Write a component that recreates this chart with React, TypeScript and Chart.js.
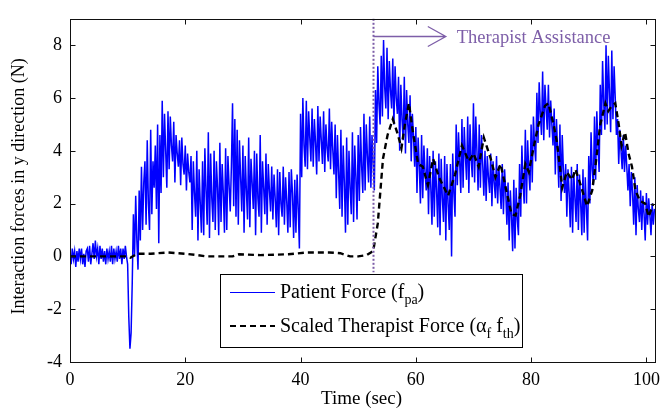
import React, { useEffect, useRef } from "react";
import { Chart, registerables } from "chart.js";

Chart.register(...registerables);

// Patient force (blue), sampled every SAMPLE_STEP seconds starting at t = 0
const SAMPLE_STEP = 0.2;
const patientForce = [
  0.1, -0.3, 0.3, -0.1, 0.2,
  -0.4, 0.2, -0.2, 0.3, -0.1,
  0.3, -0.3, 0.1, -0.4, 0.2,
  0.3, -0.2, 0.4, -0.3, 0.1,
  0.5, -0.1, 0.6, 0.0, 0.3,
  -0.3, 0.4, -0.1, 0.3, -0.2,
  0.2, -0.3, 0.3, -0.1, 0.2,
  -0.2, 0.4, -0.3, 0.3, -0.1,
  0.2, -0.2, 0.4, -0.1, 0.3,
  -0.3, 0.3, -0.1, 0.4, 0.0,
  -0.3, -2.3, -3.5, -2.9, -1.0,
  1.6, 0.0, 2.3, 0.6, -0.5,
  2.5, 0.6, 3.4, 1.0, 2.8,
  3.6, 1.2, 4.4, 2.0, 1.0,
  4.8, 1.6, 3.6, 2.6, 4.2,
  1.8, 5.0, 0.5, 4.6, 2.4,
  5.9, 3.0, 5.4, 4.0, 2.6,
  5.5, 3.3, 5.3, 4.2, 3.6,
  5.1, 2.8, 4.6, 3.9, 3.4,
  4.4, 2.7, 4.5, 3.5, 3.1,
  4.2, 2.5, 3.9, 3.2, 2.8,
  3.8, 1.0, 3.6, 2.4, 1.5,
  4.0, 0.6, 3.3, 2.0, 0.9,
  3.6, 0.8, 4.1, 2.5, 1.2,
  4.7, 0.7, 3.9, 2.2, 1.3,
  4.0, 1.0, 3.6, 2.6, 0.8,
  4.3, 1.3, 3.5, 2.4, 0.9,
  4.1, 1.0, 3.8, 2.7, 1.7,
  3.4, 5.8, 1.9, 5.2, 1.5,
  4.8, 1.2, 4.4, 3.0, 1.7,
  4.2, 0.9, 3.8, 2.5, 1.4,
  4.5, 1.1, 3.7, 2.8, 1.8,
  4.0, 0.8, 3.9, 2.2, 1.5,
  4.6, 0.9, 3.6, 2.6, 1.6,
  3.9, 1.2, 3.5, 2.5, 1.7,
  3.4, 1.4, 3.1, 2.2, 1.1,
  3.3, 0.8, 3.2, 2.0, 1.5,
  3.4, 1.2, 3.0, 2.1, 0.9,
  3.2, 1.1, 3.3, 2.4, 0.7,
  2.9, 0.9, 3.1, 1.8, 0.3,
  5.4, 3.0, 6.0, 4.2, 3.4,
  5.9, 3.3, 5.5, 4.5, 3.6,
  5.6, 3.4, 5.2, 4.3, 3.1,
  5.7, 3.6, 5.3, 4.4, 3.5,
  5.5, 3.2, 5.0, 4.1, 3.6,
  5.6, 3.3, 5.1, 4.0, 3.1,
  5.0, 2.2, 4.6, 3.2, 1.8,
  4.8, 1.5, 4.2, 2.8, 0.9,
  4.5, 1.2, 4.0, 2.6, 1.6,
  4.7, 1.3, 4.2, 3.0, 1.4,
  4.6, 2.1, 4.9, 3.4, 2.4,
  5.4, 2.5, 5.0, 3.8, 2.8,
  5.3, 2.6, 4.6, 3.5, 2.5,
  6.3, 4.3, 7.2, 5.8, 5.0,
  7.6, 5.3, 8.2, 6.4, 5.6,
  7.9, 5.2, 7.4, 6.3, 5.6,
  7.5, 5.0, 7.2, 6.0, 5.4,
  6.8, 4.0, 6.5, 5.2, 4.4,
  6.8, 3.9, 6.3, 5.0, 4.3,
  6.1, 3.6, 5.4, 4.5, 3.4,
  4.9, 2.4, 4.5, 3.4, 2.0,
  4.6, 2.2, 4.2, 3.2, 2.5,
  4.1, 1.6, 3.8, 2.6, 1.2,
  4.0, 1.5, 3.6, 2.5, 1.1,
  3.9, 0.8, 3.7, 2.2, 1.3,
  3.8, 0.6, 3.5, 2.0, 1.0,
  3.5, 0.0, 3.9, 2.4, 1.5,
  5.0, 2.7, 4.7, 3.6, 2.4,
  5.2, 2.6, 4.9, 3.8, 2.9,
  5.3, 2.4, 5.0, 3.7, 3.0,
  5.8, 2.8, 5.3, 4.0, 2.5,
  5.0, 2.6, 4.6, 3.5, 2.3,
  4.0, 2.1, 3.8, 3.0, 2.4,
  3.9, 1.9, 3.6, 2.8, 2.2,
  3.8, 2.0, 3.4, 2.6, 1.8,
  3.5, 1.6, 3.3, 2.4, 1.2,
  2.8, 0.6, 2.5, 1.5, 0.2,
  2.9, 0.3, 2.6, 1.4, 0.8,
  3.5, 1.5, 4.2, 2.8, 2.0,
  4.8, 2.0, 4.4, 3.2, 2.5,
  5.0, 2.8, 5.3, 4.2, 3.6,
  6.2, 4.3, 6.6, 5.4, 4.6,
  7.0, 4.4, 6.5, 5.6, 4.8,
  6.5, 4.5, 5.9, 5.0, 4.2,
  5.6, 3.1, 5.2, 4.0, 2.6,
  5.0, 2.1, 4.6, 3.3, 2.4,
  3.5, 1.5, 3.3, 2.4, 1.1,
  3.4, 0.9, 3.2, 2.2, 1.3,
  3.5, 1.0, 3.1, 2.0, 0.8,
  3.3, 0.9, 3.0, 1.8, 0.6,
  3.8, 2.0, 4.7, 3.3, 2.7,
  5.3, 2.9, 5.5, 4.2, 3.2,
  6.5, 4.6, 7.4, 5.8, 4.8,
  8.0, 5.0, 7.6, 6.2, 4.7,
  7.8, 5.2, 7.2, 6.0, 4.6,
  5.2, 3.5, 4.8, 4.0, 3.3,
  4.6, 3.2, 4.2, 3.4, 2.5,
  3.5, 1.9, 3.2, 2.4, 1.2,
  3.0, 0.8, 2.7, 1.8, 1.3,
  2.5, 1.0, 2.3, 1.6, 0.6,
  2.4, 1.2, 2.2, 1.6, 0.8,
  2.0, 1.2, 1.8,
];

// Scaled therapist force (black dashed)
const therapistTime = [
  0, 2, 4, 6, 8, 10, 10.5, 11.6, 14, 17, 20, 22, 23.6, 26, 28.2, 29.3, 33, 37.9,
  41.2, 45, 46.9, 48.6, 50, 51.5, 52.2, 52.6, 53.4, 54.3, 55.1, 56, 56.9, 57.5,
  58.1, 58.8, 59.5, 60.4, 61.2, 62.1, 63, 64, 65.6, 66.8, 68, 69.2, 70, 70.9,
  71.8, 73, 73.8, 74.7, 75.2, 75.9, 76.6, 77.3, 78.1, 79, 79.6, 80.4, 81.3, 82.4,
  83, 83.9, 84.5, 85.1, 85.4, 86.2, 87.1, 87.7, 88.6, 89.7, 90.6, 91.2, 92, 92.9,
  93.4, 94, 94.6, 95.2, 95.7, 96.3, 96.9, 97.5, 98.1, 98.9, 99.8, 100.4, 101.2,
];
const therapistForce = [
  0, 0, 0, 0, 0, 0, -0.05, 0.1, 0.1, 0.15, 0.1, 0.05, 0.0, 0.0, 0.0, 0.08, 0.05, 0.08,
  0.15, 0.15, 0.12, 0.0, 0.0, 0.05, 0.15, 0.2, 1.25, 3.7, 4.6, 5.2, 4.6, 4.1,
  5.0, 5.8, 4.7, 3.5, 3.4, 2.7, 3.7, 3.0, 2.3, 3.1, 4.2, 3.6, 3.9, 3.4,
  4.5, 3.7, 3.0, 3.5, 3.0, 2.3, 1.6, 1.55, 2.3, 3.5, 3.2, 4.1, 5.0, 5.7,
  5.8, 5.0, 4.3, 3.2, 2.6, 3.2, 2.9, 3.3, 2.7, 1.9, 2.5, 3.5, 5.0, 5.8,
  5.5, 5.7, 5.8, 5.0, 4.2, 4.7, 3.9, 3.4, 2.5, 2.1, 2.0, 1.5, 2.0,
];

const xTickValues = [0, 20, 40, 60, 80, 100];
const yTickValues = [-4, -2, 0, 2, 4, 6, 8];

const assistanceStart = 52.6;
const assistanceLineBottom = -0.6;
const arrowLevel = 8.33;
const arrowEnd = 65.2;
const annotationText = "Therapist Assistance";

const FONT = '"Liberation Serif", "Times New Roman", serif';
const PURPLE = "#7d5ea8";

function drawRuns(ctx, x, y, runs) {
  let cx = x;
  for (const r of runs) {
    ctx.font = r.sub ? `14px ${FONT}` : `20px ${FONT}`;
    ctx.fillText(r.text, cx, r.sub ? y + 6 : y);
    cx += ctx.measureText(r.text).width;
  }
}

const framePlugin = {
  id: "frame",
  afterDatasetsDraw(chart) {
    const { ctx, chartArea: a, scales } = chart;
    const xs = scales.x;
    const ys = scales.y;
    ctx.save();
    // Therapist assistance marker
    const vx = Math.round(xs.getPixelForValue(assistanceStart)) + 0.5;
    ctx.strokeStyle = PURPLE;
    ctx.lineWidth = 2;
    ctx.setLineDash([2, 2]);
    ctx.beginPath();
    ctx.moveTo(vx, a.top);
    ctx.lineTo(vx, ys.getPixelForValue(assistanceLineBottom));
    ctx.stroke();
    ctx.setLineDash([]);
    ctx.lineWidth = 1.3;
    const ay = Math.round(ys.getPixelForValue(arrowLevel)) + 0.5;
    const ax = xs.getPixelForValue(arrowEnd);
    ctx.beginPath();
    ctx.moveTo(vx, ay);
    ctx.lineTo(ax, ay);
    ctx.moveTo(ax - 18, ay - 10);
    ctx.lineTo(ax, ay);
    ctx.lineTo(ax - 18, ay + 10);
    ctx.stroke();
    ctx.fillStyle = PURPLE;
    ctx.font = `18.5px ${FONT}`;
    ctx.textBaseline = "alphabetic";
    ctx.textAlign = "left";
    ctx.fillText(annotationText, ax + 11, ay + 6);

    // Frame
    ctx.strokeStyle = "#111";
    ctx.lineWidth = 1;
    const L = Math.round(a.left) + 0.5;
    const R = Math.round(a.right) + 0.5;
    const T = Math.round(a.top) + 0.5;
    const B = Math.round(a.bottom) + 0.5;
    ctx.strokeRect(L, T, R - L, B - T);
    const tl = 5;
    ctx.beginPath();
    for (const v of xTickValues) {
      const p = Math.round(xs.getPixelForValue(v)) + 0.5;
      ctx.moveTo(p, B);
      ctx.lineTo(p, B - tl);
      ctx.moveTo(p, T);
      ctx.lineTo(p, T + tl);
    }
    for (const v of yTickValues) {
      const p = Math.round(ys.getPixelForValue(v)) + 0.5;
      ctx.moveTo(L, p);
      ctx.lineTo(L + tl, p);
      ctx.moveTo(R, p);
      ctx.lineTo(R - tl, p);
    }
    ctx.stroke();

    // Legend
    const lx = 220.5, ly = 274.5, lw = 302, lh = 73;
    ctx.fillStyle = "#fff";
    ctx.fillRect(lx, ly, lw, lh);
    ctx.strokeStyle = "#000";
    ctx.strokeRect(lx, ly, lw, lh);
    ctx.strokeStyle = "#0000ff";
    ctx.lineWidth = 1;
    ctx.beginPath();
    ctx.moveTo(230, 292.5);
    ctx.lineTo(275, 292.5);
    ctx.stroke();
    ctx.strokeStyle = "#000";
    ctx.lineWidth = 2.2;
    ctx.setLineDash([6, 4]);
    ctx.beginPath();
    ctx.moveTo(230, 326);
    ctx.lineTo(275, 326);
    ctx.stroke();
    ctx.setLineDash([]);
    ctx.fillStyle = "#000";
    drawRuns(ctx, 280, 298, [
      { text: "Patient Force (f" },
      { text: "pa", sub: true },
      { text: ")" },
    ]);
    drawRuns(ctx, 280, 332, [
      { text: "Scaled Therapist Force (\u03b1" },
      { text: "f", sub: true },
      { text: " f" },
      { text: "th", sub: true },
      { text: ")" },
    ]);

    // Axis titles
    ctx.textAlign = "center";
    ctx.textBaseline = "middle";
    ctx.font = `19px ${FONT}`;
    ctx.fillText("Time (sec)", (a.left + a.right) / 2 - 1, 399);
    ctx.font = `18px ${FONT}`;
    ctx.translate(19, (a.top + a.bottom) / 2 - 4);
    ctx.rotate(-Math.PI / 2);
    ctx.fillText("Interaction forces in y direction (N)", 0, 0);
    ctx.restore();
  },
};

export default function App() {
  const canvasRef = useRef(null);
  useEffect(() => {
    document.body.style.margin = "0";
    const patientPoints = patientForce.map((v, i) => ({ x: i * SAMPLE_STEP, y: v }));
    const therapistPoints = therapistTime.map((t, i) => ({ x: t, y: therapistForce[i] }));
    const chart = new Chart(canvasRef.current, {
      type: "line",
      data: {
        datasets: [
          {
            label: "Scaled Therapist Force",
            data: therapistPoints,
            borderColor: "#000",
            borderWidth: 2.4,
            borderDash: [6, 4],
            pointRadius: 0,
            tension: 0,
            order: 0,
          },
          {
            label: "Patient Force",
            data: patientPoints,
            borderColor: "#0000ff",
            borderWidth: 1.5,
            pointRadius: 0,
            tension: 0,
            order: 1,
          },
        ],
      },
      options: {
        animation: false,
        responsive: false,
        devicePixelRatio: 1,
        layout: { padding: { top: 12, right: 8, left: 0, bottom: 0 } },
        plugins: { legend: { display: false }, tooltip: { enabled: false } },
        scales: {
          x: {
            type: "linear",
            min: 0,
            max: 101.5,
            grid: { display: false, drawTicks: false },
            border: { display: false },
            afterFit: (s) => { s.height = 48; },
            afterBuildTicks: (s) => { s.ticks = xTickValues.map((v) => ({ value: v })); },
            ticks: {
              padding: 7,
              color: "#000",
              font: { family: FONT, size: 18 },
              maxRotation: 0,
              autoSkip: false,
            },
          },
          y: {
            type: "linear",
            min: -4,
            max: 9,
            grid: { display: false, drawTicks: false },
            border: { display: false },
            afterFit: (s) => { s.width = 70; },
            afterBuildTicks: (s) => { s.ticks = yTickValues.map((v) => ({ value: v })); },
            ticks: {
              padding: 8,
              color: "#000",
              font: { family: FONT, size: 18 },
            },
          },
        },
      },
      plugins: [framePlugin],
    });
    return () => chart.destroy();
  }, []);
  return (
    <div style={{ width: 667, height: 410 }}>
      <canvas ref={canvasRef} width={667} height={410} />
    </div>
  );
}
